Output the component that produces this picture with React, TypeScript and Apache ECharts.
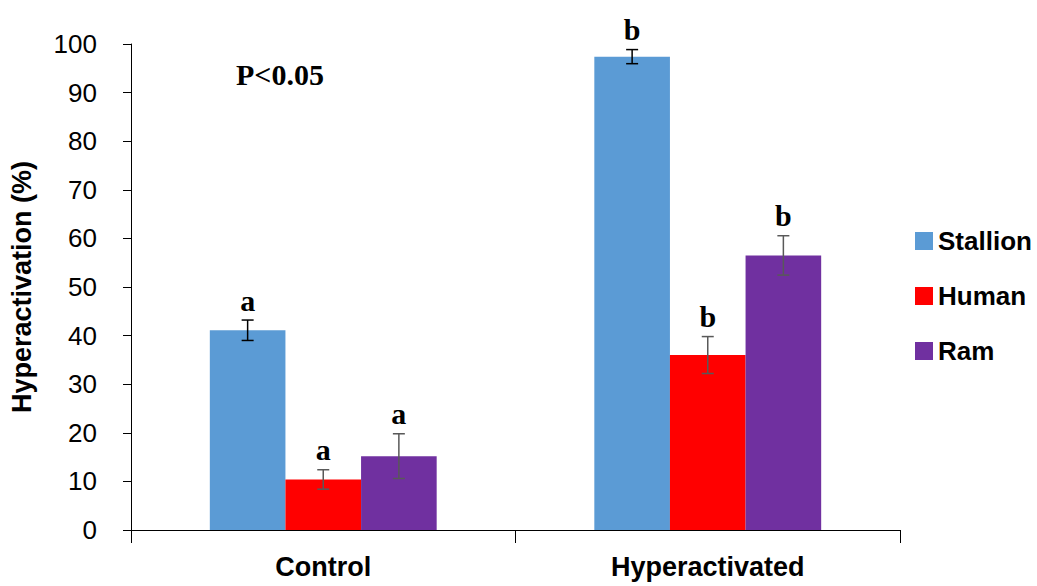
import React, { useEffect, useRef } from "react";
import * as echarts from "echarts";

const categories = ["Control", "Hyperactivated"];
const seriesNames = ["Stallion", "Human", "Ram"];
const stallion = [41.1, 97.4];
const stallionErr = [2.1, 1.45];
const human = [10.4, 36.0];
const humanErr = [2.0, 3.8];
const ram = [15.2, 56.5];
const ramErr = [4.6, 4.05];
const stallionLetters = ["a", "b"];
const humanLetters = ["a", "b"];
const ramLetters = ["a", "b"];
const yTicks = [0, 10, 20, 30, 40, 50, 60, 70, 80, 90, 100];

const colors = ["#5B9BD5", "#FF0000", "#7030A0"];
const errColors = ["#000000", "#595959", "#595959"];
const GAP = 0.41;

export default function App() {
  const ref = useRef<HTMLDivElement>(null);
  useEffect(() => {
    if (!ref.current) return;
    const chart = echarts.init(ref.current, undefined, { renderer: "svg" });
    const values = [stallion, human, ram];
    const errs = [stallionErr, humanErr, ramErr];
    const letters = [stallionLetters, humanLetters, ramLetters];

    const barSeries = seriesNames.map((name, k) => ({
      name,
      type: "bar",
      data: values[k],
      barGap: "0%",
      barCategoryGap: "41%",
      itemStyle: { color: colors[k] },
      z: 2,
    }));

    const errSeries = seriesNames.map((name, k) => ({
      name: name + "-err",
      type: "custom",
      data: categories.map((_, i) => [i, values[k][i], errs[k][i], i]),
      encode: { x: 0, y: 1 },
      z: 5,
      renderItem: (params: any, api: any) => {
        const ci = api.value(0);
        const v = api.value(1);
        const e = api.value(2);
        const idx = api.value(3);
        const c = api.coord([ci, v]);
        const band = api.size([1, 0])[0];
        const bw = (band * (1 - GAP)) / 3;
        const x = c[0] + (k - 1) * bw;
        const top = api.coord([ci, v + e])[1];
        const bot = api.coord([ci, v - e])[1];
        const cap = 6;
        const ls = { stroke: errColors[k], lineWidth: 1.5 };
        return {
          type: "group",
          children: [
            { type: "line", shape: { x1: x, y1: top, x2: x, y2: bot }, style: ls },
            { type: "line", shape: { x1: x - cap, y1: top, x2: x + cap, y2: top }, style: ls },
            { type: "line", shape: { x1: x - cap, y1: bot, x2: x + cap, y2: bot }, style: ls },
            {
              type: "text",
              x: x,
              y: top - 20,
              style: {
                text: letters[k][idx],
                fill: "#000",
                fontSize: 30,
                fontWeight: "bold",
                fontFamily: "Liberation Serif",
                align: "center",
                verticalAlign: "middle",
              },
            },
          ],
        };
      },
    }));

    chart.setOption({
      animation: false,
      grid: { left: 130, right: 137, top: 44, bottom: 56 },
      legend: {
        data: seriesNames,
        orient: "vertical",
        left: 910,
        top: 223,
        itemWidth: 18,
        itemHeight: 18,
        itemGap: 29,
        icon: "rect",
        textStyle: {
          fontSize: 26,
          fontWeight: "bold",
          fontFamily: "Liberation Sans",
          color: "#000",
          lineHeight: 26,
        },
      },
      xAxis: {
        type: "category",
        data: categories,
        axisLine: { lineStyle: { color: "#000", width: 1 } },
        axisTick: { show: true, length: 13, lineStyle: { color: "#000" } },
        axisLabel: {
          fontSize: 27,
          fontWeight: "bold",
          fontFamily: "Liberation Sans",
          color: "#000",
          margin: 23,
        },
      },
      yAxis: {
        type: "value",
        min: 0,
        max: 100,
        interval: 10,
        name: "Hyperactivation (%)",
        nameLocation: "middle",
        nameGap: 96,
        nameTextStyle: {
          fontSize: 27,
          fontWeight: "bold",
          fontFamily: "Liberation Sans",
          color: "#000",
        },
        axisLine: { show: true, lineStyle: { color: "#000", width: 1 } },
        axisTick: { show: true, length: 8, lineStyle: { color: "#000" } },
        splitLine: { show: false },
        axisLabel: {
          fontSize: 26,
          fontFamily: "Liberation Sans",
          color: "#000",
          margin: 34,
          formatter: (v: number) => (yTicks.includes(v) ? String(v) : ""),
        },
      },
      graphic: [
        {
          type: "text",
          x: 280,
          y: 74,
          style: {
            text: "P<0.05",
            fill: "#000",
            fontSize: 30,
            fontWeight: "bold",
            fontFamily: "Liberation Serif",
            align: "center",
            verticalAlign: "middle",
          },
        },
      ],
      series: [...barSeries, ...errSeries],
    });
    return () => chart.dispose();
  }, []);
  return (
    <div
      ref={ref}
      style={{ position: "absolute", left: 0, top: 0, width: 1037, height: 586, background: "#fff" }}
    />
  );
}
